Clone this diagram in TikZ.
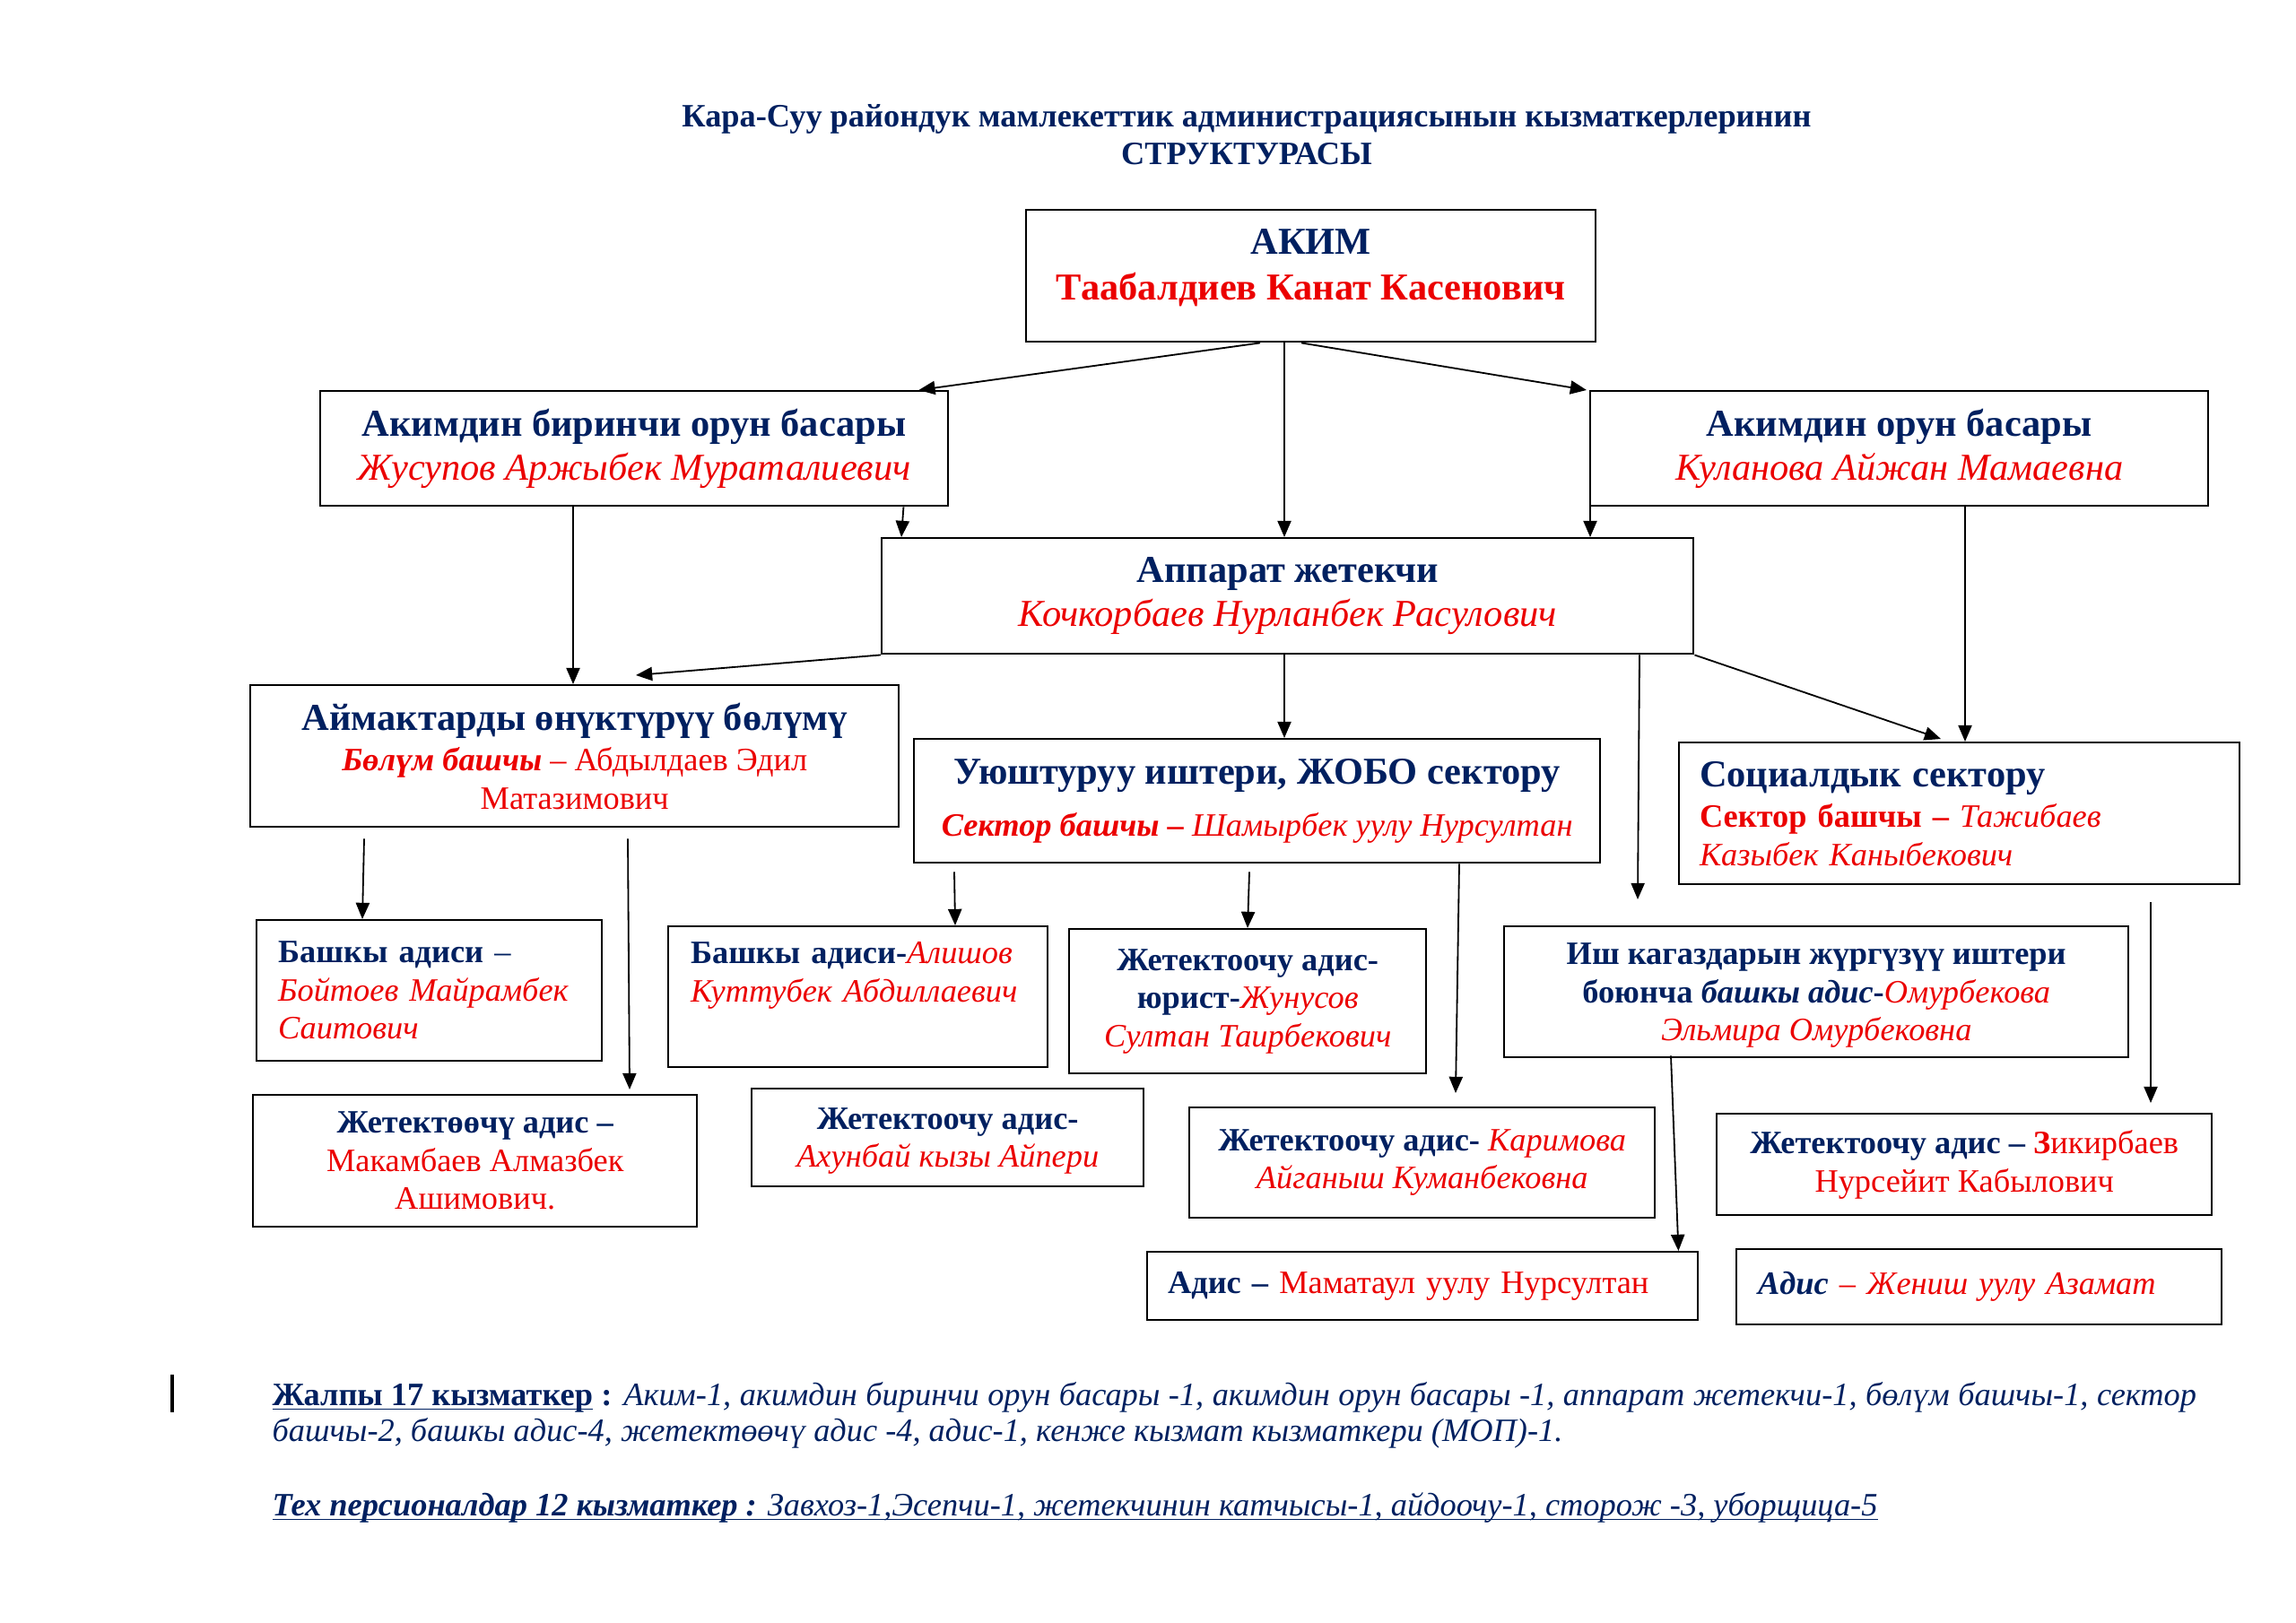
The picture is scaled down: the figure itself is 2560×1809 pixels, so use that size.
\documentclass[tikz,border=0pt]{standalone}
\usepackage{fontspec}
\setmainfont{Liberation Serif}
\usepackage{xcolor}
\usepackage{tikz}
\usetikzlibrary{arrows.meta, positioning, calc}
\definecolor{orgblue}{RGB}{0,32,96}
\definecolor{orgred}{RGB}{235,0,0}
\newcommand{\ulin}[1]{\underline{\smash{#1}}}

\begin{document}
\begin{tikzpicture}[
    x=0.0116cm, y=-0.0116cm,
    box/.style={rectangle, draw, line width=0.8pt, anchor=north west, inner sep=0pt, align=center, text=orgblue, font=\fontsize{12}{14}\selectfont\bfseries},
    big/.style={font=\fontsize{14}{16.2}\selectfont\bfseries},
    boxsize/.style 2 args={minimum width=#1*0.0116cm, minimum height=#2*0.0116cm},
    note/.style={anchor=base west, inner sep=0pt, text=orgblue, font=\fontsize{12}{14}\selectfont\itshape},
    arr/.style={draw, line width=0.6pt, -{Triangle[length=6pt, width=5pt]}}
]
\useasboundingbox (0,0) rectangle (2560,1809);

\node[align=center, text=orgblue, font=\fontsize{12}{13.8}\selectfont\bfseries] (title) at (1390,150)
    {Кара-Суу райондук мамлекеттик администрациясынын кызматкерлеринин\\ СТРУКТУРАСЫ};

\node[box, boxsize={635}{147}, text depth=8.5pt, font=\fontsize{14}{16.8}\selectfont\bfseries] (akim) at (1143,233)
    {АКИМ\\ {\color{orgred}Таабалдиев Канат Касенович}};
\node[box, big, boxsize={700}{128}] (fdep) at (356,435)
    {Акимдин биринчи орун басары\\ {\mdseries\itshape\color{orgred}Жусупов Аржыбек Мураталиевич}};
\node[box, big, boxsize={689}{128}] (dep) at (1772,435)
    {Акимдин орун басары\\ {\mdseries\itshape\color{orgred}Куланова Айжан Мамаевна}};
\node[box, big, boxsize={905}{129}] (app) at (982,599)
    {Аппарат жетекчи\\ {\mdseries\itshape\color{orgred}Кочкорбаев Нурланбек Расулович}};

\node[box, boxsize={723}{158}] (aimak) at (278,763)
    {{\fontsize{14}{16}\selectfont Аймактарды өнүктүрүү бөлүмү}\\[1pt]
     {\itshape\color{orgred}Бөлүм башчы} {\mdseries\color{orgred}– Абдылдаев Эдил}\\
     {\mdseries\color{orgred}Матазимович}};
\node[box, boxsize={765}{138}] (uyush) at (1018,823)
    {{\fontsize{14}{16}\selectfont Уюштуруу иштери, ЖОБО сектору}\\[5pt]
     {\itshape\color{orgred}Сектор башчы –} {\mdseries\itshape\color{orgred}Шамырбек уулу Нурсултан}};
\node[box, boxsize={625}{158}, align=left, text width=6.72cm] (social) at (1871,827)
    {{\fontsize{14}{16}\selectfont Социалдык сектору}\\[1pt]
     {\color{orgred}Сектор башчы –} {\mdseries\itshape\color{orgred}Тажибаев}\\
     {\mdseries\itshape\color{orgred}Казыбек Каныбекович}};

\node[box, boxsize={385}{157}, align=left, text width=3.91cm] (boit) at (285,1025)
    {Башкы адиси {\mdseries –}\\
     {\mdseries\itshape\color{orgred}Бойтоев Майрамбек}\\
     {\mdseries\itshape\color{orgred}Саитович}};
\node[box, boxsize={423}{157}, align=left, text width=4.33cm] (alish) at (744,1032)
    {Башкы адиси-{\mdseries\itshape\color{orgred}Алишов}\\
     {\mdseries\itshape\color{orgred}Куттубек Абдиллаевич}\\ \strut};
\node[box, boxsize={398}{161}] (yur) at (1191,1035)
    {Жетектоочу адис-\\
     юрист-{\mdseries\itshape\color{orgred}Жунусов}\\
     {\mdseries\itshape\color{orgred}Султан Таирбекович}};
\node[box, boxsize={696}{146}, text depth=0pt] (ish) at (1676,1032)
    {Иш кагаздарын жүргүзүү иштери\\
     боюнча {\itshape башкы адис}-{\mdseries\itshape\color{orgred}Омурбекова}\\
     {\mdseries\itshape\color{orgred}Эльмира Омурбековна}};

\node[box, boxsize={495}{147}] (makam) at (281,1220)
    {Жетектөөчү адис –\\
     {\mdseries\color{orgred}Макамбаев Алмазбек}\\
     {\mdseries\color{orgred}Ашимович.}};
\node[box, boxsize={437}{109}, text depth=0pt] (ahun) at (837,1213)
    {Жетектоочу адис-\\
     {\mdseries\itshape\color{orgred}Ахунбай кызы Айпери}};
\node[box, boxsize={519}{123}] (karim) at (1325,1234)
    {Жетектоочу адис- {\mdseries\itshape\color{orgred}Каримова}\\
     {\mdseries\itshape\color{orgred}Айганыш Куманбековна}};
\node[box, boxsize={552}{113}] (zikir) at (1913,1241)
    {Жетектоочу адис – {\color{orgred}З}{\mdseries\color{orgred}икирбаев}\\
     {\mdseries\color{orgred}Нурсейит Кабылович}};
\node[box, boxsize={614}{76}, align=left, text width=6.59cm] (mamat) at (1278,1395)
    {Адис – {\mdseries\color{orgred}Маматаул уулу Нурсултан}};
\node[box, boxsize={541}{84}, align=left, text width=5.72cm] (jenish) at (1935,1392)
    {{\itshape Адис} {\mdseries\itshape\color{orgred}– Жениш уулу Азамат}};

\draw[arr] ($(akim.south west)+(262,0)$) -- ($(fdep.north east)+(-34,0)$);
\draw[arr] ($(akim.south west)+(289,0)$) -- ($(app.north west)+(450,0)$);
\draw[arr] ($(akim.south west)+(308,0)$) -- ($(dep.north west)+(-3,0)$);
\draw[arr] ($(fdep.south east)+(-51,0)$) -- ($(app.north west)+(23,0)$);
\draw[arr] ($(dep.south west)+(1,0)$) -- ($(app.north west)+(791,0)$);
\draw[arr] ($(fdep.south west)+(283,0)$) -- ($(aimak.north west)+(361,0)$);
\draw[arr] (app.south west) -- ($(aimak.north west)+(431,-10)$);
\draw[arr] ($(app.south west)+(450,0)$) -- ($(uyush.north west)+(414,0)$);
\draw[arr] (app.south east) -- ($(social.north west)+(293,-3)$);
\draw[arr] ($(dep.south west)+(419,0)$) -- ($(social.north west)+(320,0)$);
\draw[arr] ($(app.south west)+(846,0)$) -- ($(ish.north west)+(150,-29)$);
\draw[arr] ($(aimak.south west)+(128,12)$) -- ($(boit.north west)+(119,0)$);
\draw[arr] ($(aimak.south west)+(422,12)$) -- ($(makam.north west)+(421,-5)$);
\draw[arr] ($(uyush.south west)+(46,9)$) -- ($(alish.north west)+(321,0)$);
\draw[arr] ($(uyush.south west)+(375,9)$) -- ($(yur.north west)+(200,0)$);
\draw[arr] ($(uyush.south west)+(609,0)$) -- ($(karim.north west)+(298,-15)$);
\draw[arr] ($(social.south west)+(527,19)$) -- ($(zikir.north west)+(485,-11)$);
\draw[arr] ($(ish.south west)+(187,-3)$) -- ($(mamat.north east)+(-23,0)$);

\draw[line width=1pt] (192,1533) -- (192,1575);
\node[note] (total) at (303,1567)
    {\makebox[24.88cm][s]{{\upshape\bfseries\ulin{Жалпы 17 кызматкер} :} Аким-1, акимдин биринчи орун басары -1, акимдин орун басары -1, аппарат жетекчи-1, бөлүм башчы-1, сектор}};
\node[note] (total2) at (303,1607)
    {башчы-2, башкы адис-4, жетектөөчү адис -4, адис-1, кенже кызмат кызматкери (МОП)-1.};
\node[note] (tech) at (303,1690)
    {\ulin{{\bfseries Тех персионалдар 12 кызматкер :} Завхоз-1,Эсепчи-1, жетекчинин катчысы-1, айдоочу-1, сторож -3, уборщица-5}};
\end{tikzpicture}
\end{document}
